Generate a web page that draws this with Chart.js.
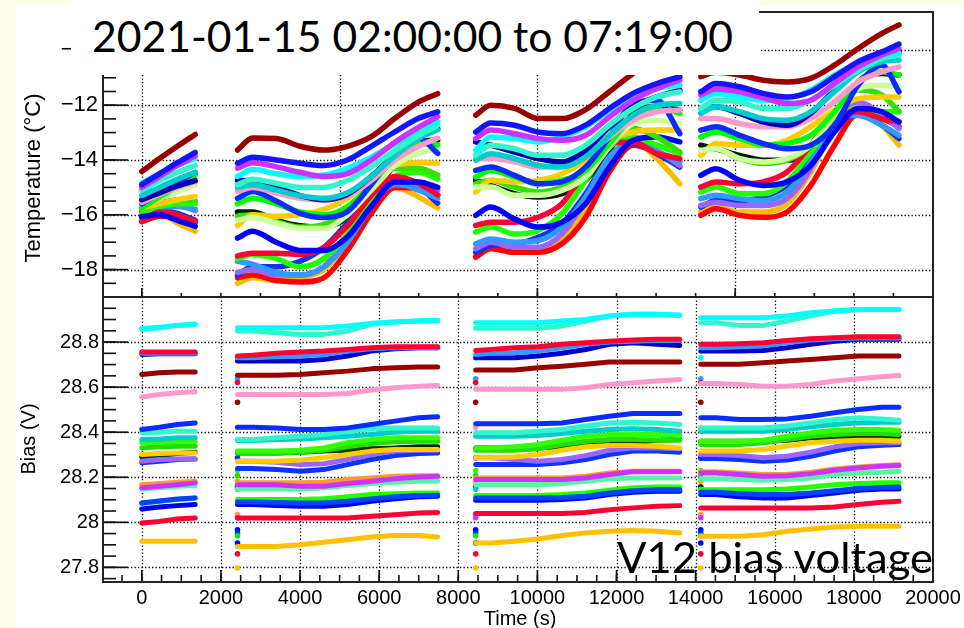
<!DOCTYPE html>
<html>
<head>
<meta charset="utf-8">
<script src="https://cdn.jsdelivr.net/npm/chart.js@4.4.1/dist/chart.umd.min.js"></script>
<style>
  body { margin: 0; background: #fffee8; }
  #page { position: relative; width: 964px; height: 628px; overflow: hidden; }
  #paper { position: absolute; left: 16px; top: 6px; width: 948px; height: 622px; background: #fff; }
  canvas { position: absolute; left: 0; }
  .axtitle { position: absolute; font-family: "Liberation Sans", Arial, sans-serif; color: #000;
             white-space: nowrap; line-height: 1; transform: translate(-50%, -50%); }
  .rot { transform: translate(-50%, -50%) rotate(-90deg); }
  #titleBox { position: absolute; left: 71px; top: 0; width: 688px; height: 75px; background: #fff; }
  .big { position: absolute; font-family: Lato, "Open Sans", sans-serif; font-size: 42px; line-height: 1;
         white-space: nowrap; color: #000; transform-origin: 0 0; }
</style>
</head>
<body>
<div id="page">
  <div id="paper"></div>
  <canvas id="tempChart" width="964" height="300" style="top:0"></canvas>
  <canvas id="biasChart" width="964" height="338" style="top:290px"></canvas>
  <div class="axtitle rot" style="left:33px; top:178px; font-size:22px">Temperature (°C)</div>
  <div class="axtitle rot" style="left:28px; top:439px; font-size:20px">Bias (V)</div>
  <div class="axtitle" style="left:520px; top:618px; font-size:20px">Time (s)</div>
  <div id="titleBox"></div>
  <div class="big" id="titleText" style="left:92px; top:15px">2021-01-15 02:00:00 to 07:19:00</div>
  <div class="big" id="noteText" style="left:617px; top:536px">V12 bias voltage</div>
</div>
<script>
// sample times of the four runs (s)
const tSeg1 = [0, 450, 900, 1350];
const tSeg2 = [2420, 2800, 3400, 4000, 4600, 5200, 5800, 6400, 7000, 7480];
const tSeg3 = [8440, 8820, 9420, 10020, 10620, 11220, 11820, 12420, 13020, 13600];
const tSeg4 = [14130, 14510, 15110, 15710, 16310, 16910, 17510, 18110, 18710, 19140];
const segTimes = [tSeg1, tSeg2, tSeg3, tSeg4];

// temperature (degC), one value per sample time
const tMaroon = [-14.42, -13.95, -13.5, -13.07,
  -13.64, -13.2, -13.22, -13.5, -13.64, -13.5, -13.15, -12.48, -11.88, -11.58,
  -12.37, -12.0, -12.12, -12.49, -12.49, -12.16, -11.51, -10.84, -10.3, -9.9,
  -10.96, -10.8, -10.9, -11.09, -11.15, -11.02, -10.54, -9.93, -9.38, -9.07];
const tBlueTop = [-14.9, -14.5, -14.1, -13.72,
  -14.12, -13.9, -14.0, -14.12, -14.2, -14.0, -13.5, -12.97, -12.48, -12.24,
  -12.98, -12.65, -12.73, -12.98, -13.04, -12.73, -12.12, -11.57, -11.21, -10.96,
  -11.51, -11.21, -11.33, -11.57, -11.7, -11.51, -10.96, -10.41, -10.05, -9.77];
const tMagenta = [-15.0, -14.6, -14.2, -13.85,
  -14.3, -14.1, -14.25, -14.45, -14.6, -14.5, -14.0, -13.35, -12.8, -12.42,
  -13.22, -12.91, -13.04, -13.22, -13.28, -13.1, -12.43, -11.82, -11.39, -11.09,
  -11.63, -11.41, -11.51, -11.73, -11.94, -11.82, -11.21, -10.6, -10.17, -9.93];
const tCyan = [-14.85, -14.5, -14.2, -13.94,
  -14.6, -14.35, -14.5, -14.6, -14.55, -14.3, -13.9, -13.4, -12.9, -12.6,
  -13.65, -13.16, -13.22, -13.34, -13.16, -12.79, -12.18, -11.7, -11.39, -11.27,
  -11.82, -11.57, -11.7, -11.82, -11.76, -11.45, -10.9, -10.48, -10.17, -10.11];
const tAqua = [-15.1, -14.75, -14.45, -14.2,
  -14.9, -14.7, -14.85, -15.0, -15.0, -14.75, -14.25, -13.65, -13.1, -12.73,
  -13.83, -13.46, -13.59, -13.83, -13.83, -13.46, -12.73, -12.12, -11.7, -11.51,
  -12.12, -11.82, -11.88, -12.12, -12.12, -11.82, -11.27, -10.72, -10.29, -10.17];
const tTeal = [-15.3, -15.0, -14.7, -14.45,
  -15.0, -14.9, -15.1, -15.3, -15.4, -15.2, -14.6, -13.85, -13.2, -12.9,
  -14.01, -13.77, -13.95, -14.2, -14.26, -13.89, -13.1, -12.37, -12.0, -11.94,
  -12.3, -12.06, -12.24, -12.49, -12.55, -12.24, -11.51, -10.78, -10.41, -10.35];
const tNavy = [-15.45, -15.2, -14.95, -14.75,
  -14.75, -14.75, -15.0, -15.3, -15.45, -15.25, -14.6, -13.8, -13.15, -12.85,
  -13.34, -13.46, -13.71, -13.95, -14.07, -13.65, -12.79, -12.06, -11.7, -11.45,
  -12.12, -12.06, -12.3, -12.61, -12.73, -12.3, -11.45, -10.66, -10.29, -10.05];
const tPink = [-15.55, -15.25, -15.0, -14.8,
  -15.15, -15.0, -15.2, -15.4, -15.45, -15.3, -14.75, -14.0, -13.5, -13.2,
  -13.95, -13.95, -14.07, -14.26, -14.13, -13.83, -13.16, -12.55, -12.24, -12.18,
  -12.49, -12.49, -12.67, -12.79, -12.79, -12.49, -11.88, -11.15, -10.78, -10.6];
const tBlueMid = [-15.6, -15.2, -14.8, -14.45,
  -15.4, -15.15, -15.5, -15.95, -16.1, -15.88, -14.9, -13.7, -13.2, -13.76,
  -14.38, -14.26, -14.56, -14.87, -14.8, -14.26, -13.16, -11.94, -11.82, -13.04,
  -12.91, -12.79, -13.1, -13.4, -13.59, -13.46, -12.73, -11.27, -10.54, -11.51];
const tGreen = [-15.75, -15.35, -14.95, -14.55,
  -15.6, -15.4, -15.6, -15.9, -16.0, -15.7, -14.9, -13.9, -13.4, -13.45,
  -14.62, -14.38, -14.62, -14.87, -14.74, -14.38, -13.4, -12.43, -12.06, -12.3,
  -13.16, -12.98, -13.22, -13.46, -13.4, -13.1, -12.24, -11.15, -10.78, -10.9];
const tBlack = [-15.9, -15.45, -14.95, -14.5,
  -15.9, -15.9, -16.2, -16.4, -16.45, -16.1, -15.2, -14.2, -13.35, -13.27,
  -14.74, -14.93, -15.23, -15.35, -15.23, -14.74, -13.65, -12.3, -12.06, -12.18,
  -13.46, -13.59, -13.83, -14.01, -14.01, -13.71, -12.73, -11.15, -10.84, -10.9];
const tLightGreen = [-15.7, -15.4, -15.15, -14.9,
  -16.2, -16.1, -16.3, -16.5, -16.5, -16.0, -15.1, -14.2, -13.75, -13.6,
  -14.99, -14.99, -15.29, -15.29, -15.11, -14.62, -13.52, -12.67, -12.55, -12.67,
  -13.65, -13.59, -13.95, -14.07, -13.95, -13.46, -12.37, -11.39, -11.27, -11.33];
const tOrange = [-15.75, -15.6, -15.45, -15.33,
  -16.4, -16.0, -16.05, -16.0, -15.8, -15.4, -14.7, -14.2, -14.1, -14.12,
  -15.17, -14.74, -14.8, -14.74, -14.5, -14.01, -13.28, -12.98, -12.91, -12.91,
  -13.83, -13.4, -13.46, -13.46, -13.28, -12.79, -12.18, -11.76, -11.7, -11.7];
const tGreen2 = [-15.8, -15.6, -15.45, -15.5,
  -16.05, -16.0, -16.25, -16.45, -16.35, -15.9, -15.0, -14.3, -14.3, -14.55,
  -14.87, -14.74, -14.99, -15.17, -14.99, -14.5, -13.52, -12.85, -13.16, -13.71,
  -13.65, -13.59, -13.95, -14.13, -14.01, -13.46, -12.37, -11.45, -11.63, -12.24];
const tBlueLow = [-16.06, -16.0, -16.2, -16.42,
  -16.85, -16.6, -17.0, -17.3, -17.3, -16.8, -15.7, -14.8, -14.8, -15.0,
  -16.02, -15.72, -16.15, -16.45, -16.27, -15.6, -14.26, -13.28, -13.16, -13.34,
  -14.56, -14.32, -14.74, -14.93, -14.8, -14.2, -12.98, -12.12, -12.24, -12.61];
const tRed = [-16.24, -15.9, -16.0, -16.24,
  -17.5, -17.4, -17.4, -17.45, -17.2, -16.4, -15.3, -14.6, -14.85, -15.27,
  -16.39, -16.27, -16.27, -16.09, -15.6, -14.38, -13.4, -13.34, -13.77, -13.95,
  -14.99, -14.8, -14.87, -14.8, -14.44, -13.46, -12.37, -12.24, -12.49, -12.61];
const tGreenLow = [-15.95, -15.7, -15.6, -15.6,
  -17.6, -17.45, -17.6, -17.9, -17.6, -16.7, -15.4, -14.6, -14.45, -14.7,
  -16.63, -16.45, -16.7, -16.57, -15.96, -14.74, -13.52, -13.16, -13.46, -13.77,
  -15.17, -14.99, -15.23, -15.23, -14.8, -13.71, -12.61, -12.12, -12.24, -12.24];
const tDodger = [-16.0, -15.75, -15.7, -15.8,
  -17.7, -17.8, -18.1, -18.2, -17.9, -17.0, -15.7, -14.85, -15.1, -15.4,
  -17.06, -16.88, -17.0, -16.94, -16.45, -15.35, -13.89, -13.34, -13.71, -14.07,
  -15.41, -15.29, -15.41, -15.48, -15.17, -14.07, -12.61, -12.37, -12.73, -13.1];
const tPurple = [-15.7, -15.5, -15.6, -15.85,
  -18.1, -18.0, -18.2, -18.2, -17.9, -16.8, -15.6, -14.9, -14.9, -15.1,
  -17.24, -17.0, -17.18, -17.18, -16.7, -15.48, -14.01, -13.28, -13.65, -14.2,
  -15.66, -15.54, -15.66, -15.66, -15.41, -14.32, -12.49, -11.88, -12.37, -12.85];
const tBlueLow2 = [-16.1, -15.85, -15.95, -16.2,
  -18.2, -17.9, -17.9, -17.7, -17.2, -16.3, -15.3, -14.8, -15.0, -15.57,
  -17.37, -17.12, -17.06, -16.82, -16.33, -15.23, -13.89, -13.4, -13.77, -14.26,
  -15.72, -15.48, -15.48, -15.35, -14.93, -13.95, -12.67, -12.37, -12.73, -13.22];
const tRedLow = [-16.25, -16.05, -16.1, -16.3,
  -18.3, -18.2, -18.4, -18.45, -18.3, -17.3, -15.95, -15.0, -15.05, -15.3,
  -17.55, -17.24, -17.37, -17.37, -17.06, -16.09, -14.44, -13.46, -13.71, -14.01,
  -16.02, -15.78, -16.02, -16.09, -15.9, -14.93, -13.46, -12.3, -12.49, -12.79];
const tOrangeLow = [-16.1, -15.95, -16.3, -16.6,
  -18.5, -18.3, -18.4, -18.3, -18.0, -17.0, -15.8, -15.0, -15.35, -15.75,
  -17.49, -17.18, -17.37, -17.3, -16.82, -15.84, -14.26, -13.34, -13.95, -14.87,
  -15.9, -15.72, -15.9, -15.9, -15.6, -14.44, -12.85, -12.0, -12.73, -13.46];

// first entry is drawn on top
const tempSeries = [tMaroon, tBlueTop, tMagenta, tCyan, tAqua, tTeal, tNavy, tPink, tBlueMid,
  tGreen, tLightGreen, tOrange, tGreen2, tBlueLow, tRed, tGreenLow, tDodger,
  tPurple, tBlueLow2, tRedLow, tOrangeLow, tBlack];
const tempColors = ['#990000', '#1414ff', '#cc33ff', '#00ffff', '#33f5cc', '#00cccc', '#0000b0', '#ff99cc', '#0a2cff',
  '#00ff00', '#ccff99', '#ffcc00', '#33e000', '#0000ff', '#ff0033', '#22ff00', '#3399ff',
  '#9966ff', '#1133ee', '#ff0000', '#ffbb00', '#001a00'];

// bias voltage (V), one value per sample time
const bCyan = [28.86, 28.866, 28.874, 28.879,
  28.864, 28.864, 28.864, 28.864, 28.864, 28.871, 28.883, 28.889, 28.893, 28.896,
  28.886, 28.886, 28.886, 28.886, 28.893, 28.9, 28.916, 28.923, 28.923, 28.919,
  28.908, 28.908, 28.908, 28.908, 28.916, 28.93, 28.938, 28.945, 28.945, 28.945];
const bAqua = [28.856, 28.864, 28.874, 28.879,
  28.849, 28.849, 28.841, 28.834, 28.834, 28.849, 28.879, 28.889, 28.893, 28.896,
  28.861, 28.861, 28.861, 28.861, 28.871, 28.893, 28.916, 28.923, 28.923, 28.919,
  28.886, 28.886, 28.874, 28.874, 28.893, 28.916, 28.938, 28.945, 28.945, 28.945];
const bRed = [28.756, 28.756, 28.756, 28.756,
  28.738, 28.741, 28.75, 28.756, 28.76, 28.767, 28.775, 28.779, 28.779, 28.779,
  28.763, 28.767, 28.775, 28.779, 28.79, 28.797, 28.804, 28.809, 28.812, 28.812,
  28.79, 28.79, 28.793, 28.797, 28.807, 28.815, 28.819, 28.824, 28.824, 28.824];
const bDodger = [28.75, 28.75, 28.75, 28.75,
  28.73, 28.73, 28.735, 28.738, 28.745, 28.76, 28.77, 28.775, 28.775, 28.775,
  28.745, 28.75, 28.753, 28.76, 28.775, 28.79, 28.8, 28.804, 28.807, 28.807,
  28.775, 28.775, 28.779, 28.785, 28.797, 28.809, 28.815, 28.818, 28.818, 28.818];
const bNavy = [28.745, 28.748, 28.748, 28.748,
  28.716, 28.716, 28.716, 28.716, 28.723, 28.738, 28.76, 28.77, 28.775, 28.775,
  28.73, 28.73, 28.73, 28.738, 28.75, 28.767, 28.79, 28.797, 28.79, 28.785,
  28.76, 28.76, 28.76, 28.763, 28.775, 28.79, 28.804, 28.812, 28.812, 28.812];
const bMaroon = [28.656, 28.664, 28.667, 28.667,
  28.653, 28.653, 28.653, 28.656, 28.664, 28.671, 28.681, 28.686, 28.689, 28.689,
  28.676, 28.676, 28.676, 28.686, 28.693, 28.701, 28.711, 28.711, 28.711, 28.711,
  28.701, 28.701, 28.701, 28.708, 28.716, 28.723, 28.73, 28.738, 28.738, 28.738];
const bPink = [28.556, 28.567, 28.575, 28.579,
  28.567, 28.567, 28.567, 28.567, 28.567, 28.572, 28.587, 28.597, 28.604, 28.607,
  28.59, 28.59, 28.59, 28.59, 28.59, 28.597, 28.612, 28.619, 28.627, 28.634,
  28.616, 28.616, 28.612, 28.604, 28.604, 28.612, 28.627, 28.637, 28.646, 28.652];
const bBlue = [28.412, 28.422, 28.434, 28.441,
  28.422, 28.422, 28.419, 28.412, 28.412, 28.419, 28.434, 28.449, 28.464, 28.468,
  28.437, 28.437, 28.437, 28.437, 28.441, 28.456, 28.471, 28.483, 28.483, 28.483,
  28.464, 28.464, 28.456, 28.456, 28.459, 28.471, 28.486, 28.501, 28.511, 28.511];
const bAqua2 = [28.397, 28.4, 28.404, 28.404,
  28.367, 28.367, 28.375, 28.382, 28.39, 28.404, 28.415, 28.419, 28.419, 28.419,
  28.397, 28.397, 28.397, 28.404, 28.412, 28.427, 28.441, 28.444, 28.441, 28.434,
  28.419, 28.419, 28.419, 28.419, 28.427, 28.441, 28.456, 28.464, 28.459, 28.453];
const bTeal = [28.367, 28.37, 28.375, 28.375,
  28.363, 28.363, 28.367, 28.37, 28.375, 28.382, 28.39, 28.4, 28.404, 28.404,
  28.382, 28.382, 28.382, 28.385, 28.394, 28.404, 28.412, 28.415, 28.412, 28.404,
  28.404, 28.404, 28.404, 28.404, 28.412, 28.424, 28.434, 28.441, 28.444, 28.444];
const bGreen = [28.353, 28.356, 28.359, 28.359,
  28.316, 28.316, 28.316, 28.32, 28.33, 28.353, 28.367, 28.375, 28.375, 28.375,
  28.33, 28.33, 28.335, 28.345, 28.364, 28.382, 28.39, 28.39, 28.39, 28.385,
  28.36, 28.36, 28.36, 28.364, 28.382, 28.397, 28.409, 28.412, 28.412, 28.409];
const bGreen2 = [28.33, 28.335, 28.338, 28.338,
  28.308, 28.308, 28.308, 28.311, 28.32, 28.335, 28.35, 28.357, 28.36, 28.36,
  28.32, 28.32, 28.32, 28.326, 28.345, 28.36, 28.367, 28.367, 28.364, 28.364,
  28.345, 28.345, 28.345, 28.353, 28.367, 28.382, 28.39, 28.394, 28.394, 28.39];
const bBlack = [28.289, 28.296, 28.305, 28.311,
  28.308, 28.308, 28.308, 28.311, 28.316, 28.32, 28.326, 28.33, 28.335, 28.335,
  28.33, 28.33, 28.33, 28.33, 28.335, 28.341, 28.345, 28.353, 28.364, 28.367,
  28.36, 28.36, 28.36, 28.36, 28.364, 28.375, 28.379, 28.382, 28.382, 28.382];
const bOrange = [28.301, 28.305, 28.308, 28.308,
  28.271, 28.271, 28.271, 28.276, 28.286, 28.301, 28.316, 28.323, 28.323, 28.323,
  28.286, 28.286, 28.29, 28.301, 28.32, 28.335, 28.341, 28.341, 28.338, 28.33,
  28.316, 28.316, 28.316, 28.323, 28.338, 28.353, 28.36, 28.364, 28.364, 28.36];
const bPurple = [28.271, 28.279, 28.281, 28.281,
  28.271, 28.271, 28.267, 28.256, 28.26, 28.279, 28.301, 28.316, 28.32, 28.32,
  28.286, 28.286, 28.279, 28.271, 28.279, 28.296, 28.32, 28.33, 28.33, 28.326,
  28.301, 28.301, 28.296, 28.286, 28.293, 28.311, 28.335, 28.35, 28.353, 28.353];
const bBlueLow = [28.264, 28.271, 28.279, 28.281,
  28.239, 28.239, 28.234, 28.227, 28.234, 28.256, 28.279, 28.296, 28.305, 28.308,
  28.256, 28.256, 28.256, 28.256, 28.264, 28.279, 28.301, 28.316, 28.316, 28.311,
  28.283, 28.283, 28.279, 28.271, 28.276, 28.293, 28.316, 28.335, 28.342, 28.345];
const bOrange2 = [28.167, 28.172, 28.178, 28.182,
  28.175, 28.175, 28.175, 28.175, 28.178, 28.19, 28.197, 28.204, 28.207, 28.207,
  28.197, 28.197, 28.197, 28.197, 28.197, 28.204, 28.219, 28.227, 28.227, 28.227,
  28.224, 28.224, 28.219, 28.212, 28.212, 28.222, 28.237, 28.245, 28.252, 28.255];
const bMagenta = [28.153, 28.16, 28.167, 28.175,
  28.167, 28.167, 28.167, 28.16, 28.16, 28.172, 28.182, 28.193, 28.201, 28.204,
  28.19, 28.19, 28.19, 28.19, 28.19, 28.197, 28.212, 28.224, 28.224, 28.224,
  28.219, 28.219, 28.212, 28.204, 28.207, 28.216, 28.231, 28.241, 28.249, 28.252];
const bMint = [28.148, 28.153, 28.16, 28.163,
  28.148, 28.148, 28.148, 28.148, 28.153, 28.163, 28.172, 28.178, 28.182, 28.182,
  28.167, 28.167, 28.167, 28.167, 28.172, 28.182, 28.193, 28.197, 28.197, 28.197,
  28.193, 28.193, 28.19, 28.187, 28.19, 28.197, 28.212, 28.219, 28.222, 28.227];
const bBlueMid = [28.086, 28.095, 28.103, 28.108,
  28.09, 28.09, 28.088, 28.086, 28.086, 28.093, 28.104, 28.113, 28.119, 28.12,
  28.108, 28.108, 28.108, 28.108, 28.11, 28.116, 28.13, 28.14, 28.145, 28.145,
  28.133, 28.133, 28.127, 28.123, 28.123, 28.13, 28.14, 28.15, 28.155, 28.157];
const bGreenLow = [28.083, 28.093, 28.101, 28.108,
  28.101, 28.101, 28.101, 28.101, 28.104, 28.113, 28.123, 28.127, 28.13, 28.13,
  28.119, 28.119, 28.119, 28.119, 28.123, 28.13, 28.142, 28.153, 28.157, 28.157,
  28.145, 28.145, 28.145, 28.145, 28.148, 28.157, 28.167, 28.172, 28.175, 28.175];
const bBlueLow2 = [28.059, 28.068, 28.074, 28.079,
  28.079, 28.079, 28.074, 28.071, 28.071, 28.079, 28.093, 28.104, 28.113, 28.116,
  28.098, 28.098, 28.098, 28.098, 28.101, 28.108, 28.123, 28.133, 28.138, 28.138,
  28.123, 28.123, 28.113, 28.108, 28.108, 28.119, 28.13, 28.142, 28.148, 28.148];
const bRedLow = [27.997, 28.004, 28.015, 28.019,
  28.019, 28.019, 28.019, 28.019, 28.019, 28.019, 28.027, 28.034, 28.041, 28.044,
  28.039, 28.039, 28.039, 28.039, 28.039, 28.044, 28.056, 28.064, 28.071, 28.074,
  28.064, 28.064, 28.064, 28.064, 28.064, 28.064, 28.068, 28.079, 28.089, 28.093];
const bOrangeLow = [27.916, 27.916, 27.916, 27.916,
  27.893, 27.893, 27.893, 27.9, 27.911, 27.923, 27.935, 27.941, 27.941, 27.935,
  27.908, 27.908, 27.916, 27.926, 27.941, 27.953, 27.96, 27.964, 27.96, 27.953,
  27.938, 27.938, 27.938, 27.945, 27.96, 27.97, 27.979, 27.982, 27.982, 27.982];

const biasSeries = [bCyan, bAqua, bRed, bDodger, bNavy, bMaroon, bPink, bBlue, bAqua2, bTeal,
  bGreen, bGreen2, bOrange, bPurple, bBlueLow, bBlack, bMagenta, bOrange2, bMint,
  bBlueMid, bGreenLow, bBlueLow2, bRedLow, bOrangeLow];
const biasColors = ['#00ffff', '#33f5cc', '#ff0033', '#3399ff', '#0000cc', '#990000', '#ff99cc', '#0a2cff', '#33f5cc', '#00cccc',
  '#33ff00', '#22dd00', '#ffcc00', '#9966ff', '#0a33ff', '#003300', '#cc33ff', '#ff9933', '#55f5a5',
  '#0044ff', '#22ff00', '#0000ee', '#ff0033', '#ffc000'];

// single readings taken at the start of each run
const runStarts = [2420, 8440, 14130];
const startBias = [28.73, 28.637, 28.62, 28.533, 28.42, 28.286, 28.23, 28.207, 28.182, 28.157,
  28.147, 28.034, 28.02, 27.967, 27.952, 27.94, 27.908, 27.86, 27.797];
const startColors = ['#00ffff', '#3399ff', '#ff0033', '#990000', '#ff99cc', '#0033ff', '#22ff00', '#22dd00', '#ffaa00', '#003300',
  '#00cccc', '#ff9933', '#cc33ff', '#0000ff', '#0033ff', '#00ee00', '#0000ff', '#ff0033', '#ffc000'];

const tempTicks = [-18, -16, -14, -12, -10];
const biasTicks = [27.8, 28, 28.2, 28.4, 28.6, 28.8];
const timeTicks = [0, 2000, 4000, 6000, 8000, 10000, 12000, 14000, 16000, 18000, 20000];

function segmentPoints(values) {
  const pts = [];
  let k = 0;
  segTimes.forEach(ts => {
    ts.forEach(t => pts.push({ x: t, y: values[k++] }));
    pts.push({ x: ts[ts.length - 1] + 1, y: null });
  });
  return pts;
}

function range(a, b, step) {
  const out = [];
  for (let v = a; v <= b + 1e-9; v += step) out.push(+v.toFixed(4));
  return out;
}

// ROOT-like frame: dotted grid, ticks drawn inside the frame
const rootFrame = {
  id: 'rootFrame',
  beforeDatasetsDraw(chart, args, o) {
    const { ctx, chartArea: a, scales } = chart;
    ctx.save();
    ctx.strokeStyle = '#000';
    ctx.lineWidth = 1.3;
    ctx.setLineDash([1.3, 2.2]);
    o.xGrid.forEach(v => {
      const x = Math.round(scales.x.getPixelForValue(v)) + 0.5;
      ctx.beginPath(); ctx.moveTo(x, a.top); ctx.lineTo(x, a.bottom); ctx.stroke();
    });
    o.yGrid.forEach(v => {
      const y = Math.round(scales.y.getPixelForValue(v)) + 0.5;
      ctx.beginPath(); ctx.moveTo(a.left, y); ctx.lineTo(a.right, y); ctx.stroke();
    });
    ctx.restore();
  },
  afterDatasetsDraw(chart, args, o) {
    const { ctx, chartArea: a, scales } = chart;
    ctx.save();
    ctx.strokeStyle = '#111';
    ctx.lineWidth = 1.6;
    const tick = (x1, y1, x2, y2) => { ctx.beginPath(); ctx.moveTo(x1, y1); ctx.lineTo(x2, y2); ctx.stroke(); };
    o.xMinor.forEach(v => { const x = scales.x.getPixelForValue(v); tick(x, a.bottom, x, a.bottom - o.xMinorLen); });
    o.xMajor.forEach(v => { const x = scales.x.getPixelForValue(v); tick(x, a.bottom, x, a.bottom - o.xMajorLen); });
    o.yMinor.forEach(v => { const y = scales.y.getPixelForValue(v); tick(a.left, y, a.left + o.yMinorLen, y); });
    o.yMajor.forEach(v => { const y = scales.y.getPixelForValue(v); tick(a.left, y, a.left + o.yMajorLen, y); });
    ctx.lineWidth = 2;
    ctx.strokeStyle = '#222';
    ctx.strokeRect(a.left, a.top, a.right - a.left, a.bottom - a.top);
    ctx.restore();
  }
};

const labelFont = { family: '"Liberation Sans", Arial, sans-serif' };
const minus = v => String(v).replace('-', '\u2212');
// keep chart areas exactly where the frames are in the picture
const noEdgePadding = s => { s.paddingTop = 0; s.paddingBottom = 0; s.paddingLeft = 0; s.paddingRight = 0; };

new Chart(document.getElementById('tempChart'), {
  type: 'line',
  data: {
    datasets: tempSeries.map((vals, i) => ({
      data: segmentPoints(vals),
      borderColor: tempColors[i],
      borderWidth: 5.5,
      pointRadius: 0,
      cubicInterpolationMode: 'monotone',
      borderCapStyle: 'round',
      borderJoinStyle: 'round',
      spanGaps: false
    }))
  },
  options: {
    responsive: false,
    animation: false,
    layout: { padding: { left: 0, top: 12, right: 31, bottom: 3 } },
    plugins: {
      legend: { display: false },
      tooltip: { enabled: false },
      rootFrame: {
        xGrid: [0, 5000, 10000, 15000], yGrid: tempTicks,
        xMajor: [0, 5000, 10000, 15000], xMinor: range(0, 19000, 1000), xMajorLen: 9, xMinorLen: 4,
        yMajor: tempTicks, yMinor: range(-19, -9, 0.5), yMajorLen: 25, yMinorLen: 13
      }
    },
    scales: {
      x: { type: 'linear', min: -980, max: 20000, display: false },
      y: {
        min: -19, max: -8.6,
        afterFit: s => { s.width = 103; noEdgePadding(s); },
        afterBuildTicks: s => { s.ticks = tempTicks.map(v => ({ value: v })); },
        grid: { display: false, drawTicks: false },
        border: { display: false },
        ticks: { autoSkip: false, padding: 5, color: '#000', font: { ...labelFont, size: 22 }, callback: v => minus(v) }
      }
    }
  },
  plugins: [rootFrame]
});

new Chart(document.getElementById('biasChart'), {
  type: 'line',
  data: {
    datasets: biasSeries.map((vals, i) => ({
      data: segmentPoints(vals),
      borderColor: biasColors[i],
      borderWidth: 5,
      pointRadius: 0,
      tension: 0,
      borderCapStyle: 'round',
      borderJoinStyle: 'round',
      spanGaps: false
    })).concat([{
      data: runStarts.flatMap(t => startBias.map(v => ({ x: t, y: v }))),
      showLine: false,
      pointRadius: 2.8,
      pointBorderWidth: 0,
      pointBackgroundColor: runStarts.flatMap(() => startColors)
    }])
  },
  options: {
    responsive: false,
    animation: false,
    layout: { padding: { left: 0, top: 7, right: 31, bottom: 0 } },
    plugins: {
      legend: { display: false },
      tooltip: { enabled: false },
      rootFrame: {
        xGrid: range(0, 18000, 2000), yGrid: biasTicks,
        xMajor: timeTicks, xMinor: range(-500, 20000, 500), xMajorLen: 12, xMinorLen: 7,
        yMajor: biasTicks, yMinor: range(27.75, 28.95, 0.05), yMajorLen: 25, yMinorLen: 13
      }
    },
    scales: {
      x: {
        type: 'linear', min: -980, max: 20000,
        afterFit: s => { s.height = 46; noEdgePadding(s); },
        afterBuildTicks: s => { s.ticks = timeTicks.map(v => ({ value: v })); },
        grid: { display: false, drawTicks: false },
        border: { display: false },
        ticks: { autoSkip: false, maxRotation: 0, padding: 4, color: '#000', font: { ...labelFont, size: 20 }, callback: v => String(v) }
      },
      y: {
        min: 27.735, max: 29.0,
        afterFit: s => { s.width = 103; noEdgePadding(s); },
        afterBuildTicks: s => { s.ticks = biasTicks.map(v => ({ value: v })); },
        grid: { display: false, drawTicks: false },
        border: { display: false },
        ticks: { autoSkip: false, padding: 4, color: '#000', font: { ...labelFont, size: 20 }, callback: v => String(+v.toFixed(1)) }
      }
    }
  },
  plugins: [rootFrame]
});

// stretch the slide texts to the width they take in the picture
function fitWidth(id, width) {
  const el = document.getElementById(id);
  el.style.transform = 'none';
  const w = el.getBoundingClientRect().width;
  el.style.transform = 'scaleX(' + (width / w) + ')';
}
document.fonts.ready.then(() => {
  fitWidth('titleText', 641);
  fitWidth('noteText', 316);
});
fitWidth('titleText', 641);
fitWidth('noteText', 316);
</script>
</body>
</html>
